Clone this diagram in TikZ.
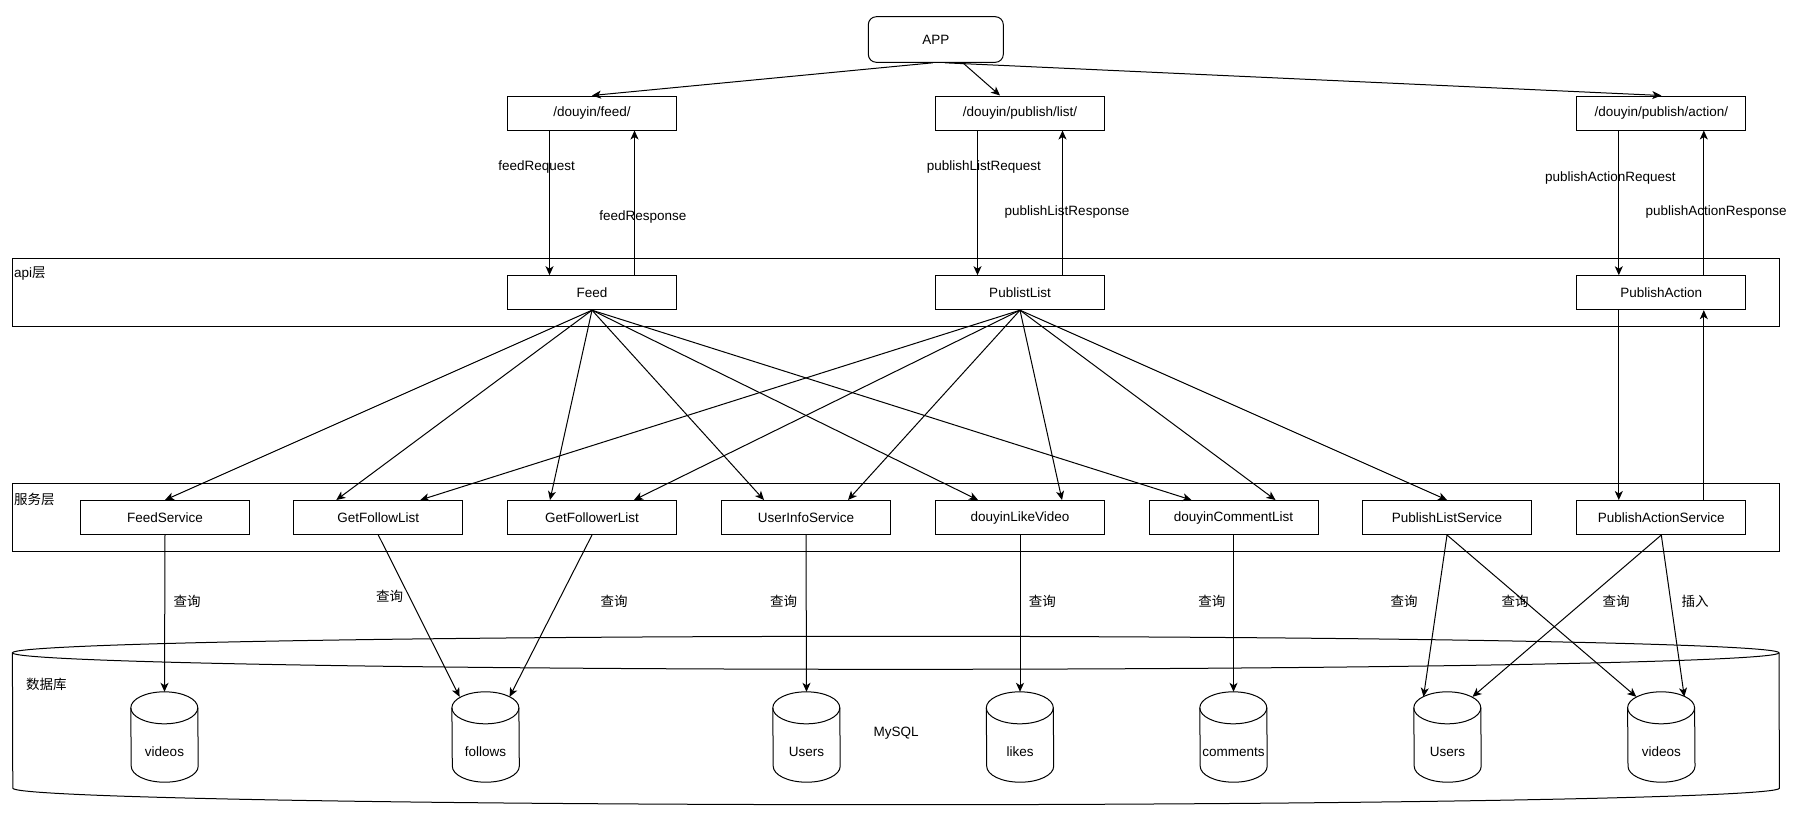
\documentclass[tikz,border=0pt]{standalone}
\usepackage{fontspec}
\setmainfont{Liberation Sans}
\newfontfamily\cjk{Noto Sans CJK SC}
\usetikzlibrary{arrows.meta,calc}
\newcommand{\dbcyl}[3]{%
  \node[cyl] (#1) at (#2,737) {};
  \draw[line width=1pt,fill=white] ($(#1.north west)+(0,16)$) arc[start angle=180,end angle=0,x radius=33.5pt,y radius=16pt]
     -- ($(#1.south east)+(0,-16)$) arc[start angle=0,end angle=-180,x radius=33.5pt,y radius=16pt] -- cycle;
  \draw[line width=1pt] ($(#1.north west)+(0,16)$) arc[start angle=180,end angle=360,x radius=33.5pt,y radius=16pt];
  \node[lbl] (#1t) at ($(#1.center)+(0,15)$) {#3};
}
\begin{document}
\begin{tikzpicture}[x=1pt,y=-1pt,
  every node/.style={font=\fontsize{13.5}{16}\selectfont},
  box/.style={draw,fill=white,line width=1pt,minimum width=169pt,minimum height=34pt,inner sep=0pt},
  layer/.style={draw,line width=1pt,inner sep=0pt,minimum width=1766.6pt},
  conn/.style={line width=1pt,-{Stealth[length=9pt,width=8pt,inset=2.5pt]}},
  lbl/.style={inner sep=0pt},
  cyl/.style={minimum width=67pt,minimum height=90pt,inner sep=0pt},
]
\path[fill=white,use as bounding box] (0,0) rectangle (1807,812);

% layers
\node[layer,minimum height=67.6pt] (api) at (895.9,292.5) {};
\node[lbl,anchor=west] (apil) at (14,274) {api{\cjk 层}};
\node[layer,minimum height=67.3pt] (svc) at (895.9,517.35) {};
\node[lbl,anchor=west] (svcl) at (14,499) {\cjk 服务层};

% database big cylinder
\node[inner sep=0pt,minimum width=1766.6pt,minimum height=168pt] (db) at (895.9,720.5) {};
\draw[line width=1pt,fill=white] ($(db.north west)+(0,16.5)$) arc[start angle=180,end angle=0,x radius=883.3pt,y radius=16.5pt]
   -- ($(db.south east)+(0,-16.5)$) arc[start angle=0,end angle=-180,x radius=883.3pt,y radius=16.5pt] -- cycle;
\draw[line width=1pt] ($(db.north west)+(0,16.5)$) arc[start angle=180,end angle=360,x radius=883.3pt,y radius=16.5pt];
\node[lbl,anchor=west] (dbl) at (26,684) {\cjk 数据库};
\node[lbl] (mysql) at (896,733) {MySQL};

% small cylinders
\dbcyl{c1}{164.5}{videos}
\dbcyl{c2}{485.6}{follows}
\dbcyl{c3}{806.5}{Users}
\dbcyl{c4}{1020}{likes}
\dbcyl{c5}{1233.5}{comments}
\dbcyl{c6}{1447.5}{Users}
\dbcyl{c7}{1661.3}{videos}

% APP
\node[draw,rounded corners=8pt,line width=1pt,minimum width=135pt,minimum height=45.6pt,inner sep=0pt] (app) at (935.8,39.5) {APP};

% url boxes
\node[box] (u1) at (592,113) {/douyin/feed/};
\node[box] (u2) at (1020,113) {/douyin/publish/list/};
\node[box] (u3) at (1661.3,113) {/douyin/publish/action/};

% api boxes
\node[box] (a1) at (592,292.7) {Feed};
\node[box] (a2) at (1020,292.7) {PublistList};
\node[box] (a3) at (1661.3,292.7) {PublishAction};

% service boxes
\node[box] (s1) at (165,517.5) {FeedService};
\node[box] (s2) at (378.3,517.5) {GetFollowList};
\node[box] (s3) at (592,517.5) {GetFollowerList};
\node[box] (s4) at (806,517.5) {UserInfoService};
\node[box] (s5) at (1020,517.5) {douyinLikeVideo};
\node[box] (s6) at (1233.5,517.5) {douyinCommentList};
\node[box] (s7) at (1447,517.5) {PublishListService};
\node[box] (s8) at (1661.3,517.5) {PublishActionService};

% APP edges
\draw[conn] ($(app.south)+(-3,0)$) -- (u1.north);
\draw[conn] ($(app.south)+(27,0)$) -- ($(u2.north)+(-20,0)$);
\draw[conn] ($(app.south)+(9,0)$) -- (u3.north);

% request / response
\foreach \u/\a in {u1/a1,u2/a2,u3/a3}{
  \draw[conn] ($(\u.south)+(-42.5,0)$) -- ($(\a.north)+(-42.5,0)$);
  \draw[conn] ($(\a.north)+(42.5,0)$) -- ($(\u.south)+(42.5,0)$);
}
\node[lbl] (l1) at (536.7,166.7) {feedRequest};
\node[lbl] (l2) at (642.9,217.3) {feedResponse};
\node[lbl] (l3) at (983.9,166.7) {publishListRequest};
\node[lbl] (l4) at (1067,212.3) {publishListResponse};
\node[lbl] (l5) at (1610.3,178.3) {publishActionRequest};
\node[lbl] (l6) at (1716.2,212.3) {publishActionResponse};

% Feed fan
\draw[conn] (a1.south) -- (s1.north);
\foreach \s in {s2,s3,s4,s5,s6}{
  \draw[conn] (a1.south) -- ($(\s.north)+(-42,0)$);
}
% PublistList fan
\foreach \s in {s2,s3,s4,s5,s6}{
  \draw[conn] (a2.south) -- ($(\s.north)+(42,0)$);
}
\draw[conn] (a2.south) -- (s7.north);
% PublishAction
\draw[conn] ($(a3.south)+(-42.5,0)$) -- ($(s8.north)+(-42.5,0)$);
\draw[conn] ($(s8.north)+(42.5,0)$) -- ($(a3.south)+(42.5,0)$);

% service to db
\draw[conn] (s1.south) -- (c1.north);
\draw[conn] (s2.south) -- ($(c2.north)+(-26,5)$);
\draw[conn] (s3.south) -- ($(c2.north)+(24,5)$);
\draw[conn] (s4.south) -- (c3.north);
\draw[conn] (s5.south) -- (c4.north);
\draw[conn] (s6.south) -- (c5.north);
\draw[conn] (s7.south) -- ($(c6.north)+(-24,5)$);
\draw[conn] (s7.south) -- ($(c7.north)+(-25,5)$);
\draw[conn] (s8.south) -- ($(c6.north)+(25,5)$);
\draw[conn] (s8.south) -- ($(c7.north)+(23,5)$);

% query labels
\node[lbl] (q1) at (187,601) {\cjk 查询};
\node[lbl] (q2) at (389.7,596) {\cjk 查询};
\node[lbl] (q3) at (614.2,601) {\cjk 查询};
\node[lbl] (q4) at (783.5,601) {\cjk 查询};
\node[lbl] (q5) at (1042.3,601) {\cjk 查询};
\node[lbl] (q6) at (1211.8,601) {\cjk 查询};
\node[lbl] (q7) at (1404,601) {\cjk 查询};
\node[lbl] (q8) at (1515,601) {\cjk 查询};
\node[lbl] (q9) at (1616,601) {\cjk 查询};
\node[lbl] (q10) at (1695,601) {\cjk 插入};
\end{tikzpicture}
\end{document}
